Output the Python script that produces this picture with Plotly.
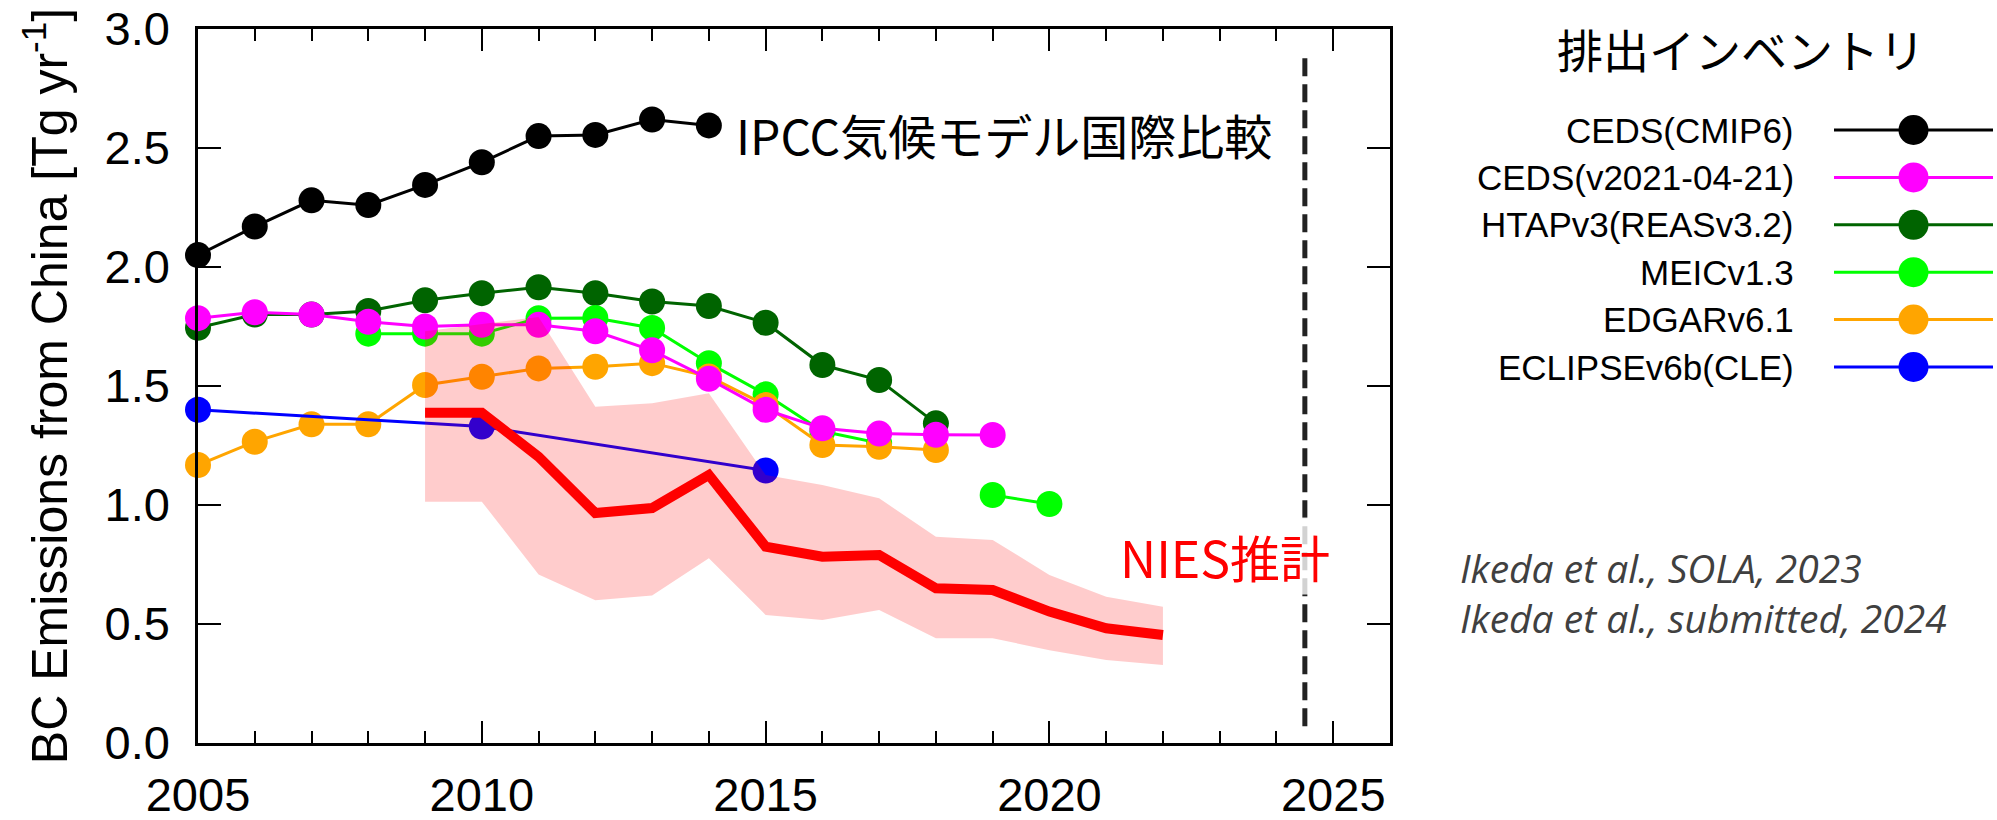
import plotly.graph_objects as go

# ---------------- data ----------------
years_cmip6 = [2005, 2006, 2007, 2008, 2009, 2010, 2011, 2012, 2013, 2014]
ceds_cmip6 = [2.05, 2.17, 2.28, 2.26, 2.345, 2.44, 2.55, 2.555, 2.62, 2.595]

years_ceds21 = [2005, 2006, 2007, 2008, 2009, 2010, 2011, 2012, 2013, 2014, 2015, 2016, 2017, 2018, 2019]
ceds_v2021 = [1.785, 1.81, 1.80, 1.77, 1.75, 1.757, 1.757, 1.73, 1.65, 1.53, 1.40, 1.322, 1.30, 1.295, 1.294]

years_htap = [2005, 2006, 2007, 2008, 2009, 2010, 2011, 2012, 2013, 2014, 2015, 2016, 2017, 2018]
htap_reas = [1.745, 1.80, 1.80, 1.815, 1.86, 1.89, 1.915, 1.89, 1.855, 1.836, 1.766, 1.588, 1.525, 1.343]

years_meic = [2008, 2009, 2010, 2011, 2012, 2013, 2014, 2015, 2016, 2017, 2018, 2019, 2020]
meic = [1.72, 1.72, 1.72, 1.785, 1.786, 1.744, 1.596, 1.465, 1.31, 1.26, None, 1.042, 1.004]

years_edgar = [2005, 2006, 2007, 2008, 2009, 2010, 2011, 2012, 2013, 2014, 2015, 2016, 2017, 2018]
edgar = [1.168, 1.266, 1.339, 1.339, 1.504, 1.539, 1.574, 1.581, 1.596, 1.54, 1.42, 1.252, 1.245, 1.231]

years_eclipse = [2005, 2010, 2015]
eclipse = [1.40, 1.33, 1.145]

years_nies = [2009, 2010, 2011, 2012, 2013, 2014, 2015, 2016, 2017, 2018, 2019, 2020, 2021, 2022]
nies = [1.388, 1.388, 1.203, 0.966, 0.987, 1.126, 0.825, 0.783, 0.79, 0.65, 0.643, 0.552, 0.482, 0.454]
nies_upper = [1.73, 1.76, 1.79, 1.413, 1.428, 1.47, 1.126, 1.084, 1.028, 0.867, 0.853, 0.706, 0.615, 0.573]
nies_lower = [1.014, 1.014, 0.708, 0.60, 0.62, 0.776, 0.538, 0.517, 0.559, 0.44, 0.44, 0.39, 0.349, 0.328]

cutoff_year = 2024.5
cutoff_span = [0.07, 2.9]

x_ticks = [2005, 2010, 2015, 2020, 2025]
y_ticks = [0.0, 0.5, 1.0, 1.5, 2.0, 2.5, 3.0]

legend_names = ["CEDS(CMIP6)", "CEDS(v2021-04-21)", "HTAPv3(REASv3.2)", "MEICv1.3", "EDGARv6.1", "ECLIPSEv6b(CLE)"]
legend_colors = ["#000000", "#ff00ff", "#006400", "#00ff00", "#ffa500", "#0000ff"]

# ---------------- layout constants ----------------
W, H = 1997, 820
PL, PR, PT, PB = 198, 1390, 29, 743  # plot area in pixels
TXT = "Liberation Sans"
CJK = "Noto Sans CJK JP"

fig = go.Figure()


def add_series(x, y, color, width=3, size=26):
    fig.add_trace(go.Scatter(
        x=x, y=y, mode="lines+markers",
        line=dict(color=color, width=width),
        marker=dict(color=color, size=size, opacity=1, line=dict(width=0)),
        cliponaxis=False, connectgaps=False, showlegend=False, hoverinfo="skip"))


add_series(years_cmip6, ceds_cmip6, "#000000")
add_series(years_htap, htap_reas, "#006400")
add_series(years_meic, meic, "#00ff00")
add_series(years_edgar, edgar, "#ffa500")
add_series(years_ceds21, ceds_v2021, "#ff00ff")
add_series(years_eclipse, eclipse, "#0000ff", width=3)

# uncertainty band (polygon built from lower/upper arrays)
fig.add_trace(go.Scatter(
    x=years_nies + years_nies[::-1],
    y=nies_upper + nies_lower[::-1],
    fill="toself", fillcolor="rgba(255,0,0,0.2)",
    line=dict(width=0), mode="lines", showlegend=False, hoverinfo="skip"))

fig.add_trace(go.Scatter(
    x=years_nies, y=nies, mode="lines",
    line=dict(color="#ff0000", width=10), showlegend=False, hoverinfo="skip"))

fig.add_trace(go.Scatter(
    x=[cutoff_year, cutoff_year], y=cutoff_span, mode="lines",
    line=dict(color="#222222", width=5, dash="18px,8px"),
    showlegend=False, hoverinfo="skip"))

# custom legend samples (text left, symbol right)
for i, c in enumerate(legend_colors):
    fig.add_trace(go.Scatter(
        x=[0, 0.5, 1], y=[i, i, i], mode="lines+markers",
        line=dict(color=c, width=3),
        marker=dict(color=c, size=[0, 30, 0], opacity=1, line=dict(width=0)),
        xaxis="x2", yaxis="y2", cliponaxis=False,
        showlegend=False, hoverinfo="skip"))

axis_common = dict(
    ticks="inside", tickwidth=2, tickcolor="black",
    showline=True, linecolor="black", linewidth=2.5, mirror="ticks",
    showgrid=False, zeroline=False, automargin=False,
    tickfont=dict(family=TXT, size=47, color="black"),
)

row_top, row_bot = 130, 367
row_sp = (row_bot - row_top) / 5

annotations = [
    dict(text="IPCC気候モデル国際比較", x=2014.45, y=2.56, xref="x", yref="y",
         xanchor="left", yanchor="middle", showarrow=False,
         font=dict(family=CJK, size=48, color="black")),
    dict(text="NIES推計", x=2021.19, y=0.785, xref="x", yref="y",
         xanchor="left", yanchor="middle", showarrow=False,
         bgcolor="rgba(255,255,255,0.8)", borderpad=2,
         font=dict(family=CJK, size=50, color="#ff0000")),
    dict(text="排出インベントリ", x=1741 / W, y=1 - 48 / H, xref="paper", yref="paper",
         xanchor="center", yanchor="middle", showarrow=False,
         font=dict(family=CJK, size=46, color="black")),
    dict(text="<i>Ikeda et al., SOLA, 2023</i>", x=1458 / W, y=1 - 567 / H,
         xref="paper", yref="paper", xanchor="left", yanchor="middle", showarrow=False,
         font=dict(family="Open Sans", size=39, color="#404040")),
    dict(text="<i>Ikeda et al., submitted, 2024</i>", x=1458 / W, y=1 - 617 / H,
         xref="paper", yref="paper", xanchor="left", yanchor="middle", showarrow=False,
         font=dict(family="Open Sans", size=39, color="#404040")),
]
for i, name in enumerate(legend_names):
    annotations.append(dict(
        text=name, x=1796 / W, y=i, xref="paper", yref="y2",
        xanchor="right", yanchor="middle", showarrow=False,
        font=dict(family=TXT, size=35, color="black")))

fig.update_layout(
    width=W, height=H, template="none",
    margin=dict(l=0, r=0, t=0, b=0, pad=0),
    paper_bgcolor="white", plot_bgcolor="white",
    showlegend=False,
    xaxis=dict(domain=[PL / W, PR / W], range=[2005, 2026], tickvals=x_ticks,
               ticklen=22, ticklabelstandoff=9,
               minor=dict(dtick=1, tick0=2005, ticks="inside", ticklen=12,
                          tickwidth=2, tickcolor="black", showgrid=False),
               anchor="y", **axis_common),
    yaxis=dict(domain=[1 - PB / H, 1 - PT / H], range=[0, 3], tickvals=y_ticks,
               tickformat=".1f", ticklen=23, ticklabelstandoff=16, anchor="x",
               title=dict(text="BC Emissions from China [Tg yr<sup>-1</sup>]",
                          font=dict(family=TXT, size=50, color="black"), standoff=22),
               **axis_common),
    xaxis2=dict(domain=[1834 / W, 1993 / W], range=[0, 1], visible=False,
                anchor="y2", fixedrange=True),
    yaxis2=dict(domain=[1 - (row_bot + row_sp / 2) / H, 1 - (row_top - row_sp / 2) / H],
                range=[5.5, -0.5], visible=False, anchor="x2", fixedrange=True),
    annotations=annotations,
)

fig.write_html("out.html", config={"displayModeBar": False},
               post_script="document.body.style.margin='0';document.body.style.overflow='hidden';")
